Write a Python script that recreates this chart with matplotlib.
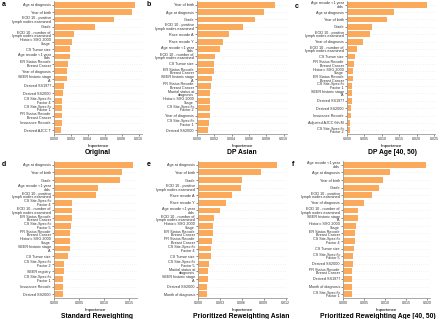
import numpy as np
import matplotlib
matplotlib.use("Agg")
import matplotlib.pyplot as plt

plt.rcParams['font.family'] = ['Liberation Sans', 'DejaVu Sans']

# feature importances (top bar first)
orig_labels = ["Age at diagnosis", "Year of birth", "EOD 10 - positive\nlymph nodes examined", "Grade",
               "EOD 10 - number of\nlymph nodes examined", "Historic SSG 2000\nStage", "CS Tumor size",
               "Age recode <1 year\nolds", "ER Status Recode\nBreast Cancer", "Year of diagnosis",
               "SEER historic stage\nA", "Derived SS1977", "Derived SS2000", "CS Site-Specific\nFactor 4",
               "CS Site-Specific\nFactor 1", "PR Status Recode\nBreast Cancer", "Insurance Recode",
               "Derived AJCC T"]
orig_vals = [0.00956, 0.00916, 0.00708, 0.0048, 0.00236, 0.00208, 0.00188, 0.00184, 0.0016, 0.00156,
             0.00156, 0.00116, 0.00112, 0.0010, 0.0010, 0.00096, 0.00092, 0.00088]

dpa_labels = ["Year of birth", "Age at diagnosis", "Grade", "EOD 10 - positive\nlymph nodes examined",
              "Race recode A", "Race recode Y", "Age recode <1 year\nolds",
              "EOD 10 - number of\nlymph nodes examined", "CS Tumor size", "ER Status Recode\nBreast Cancer",
              "SEER historic stage\nA", "PR Status Recode\nBreast Cancer", "Marital status at\ndiagnosis",
              "Historic SSG 2000\nStage", "CS Site-Specific\nFactor 2", "Year of diagnosis",
              "CS Site-Specific\nFactor 1", "Derived SS2000"]
dpa_vals = [0.00899, 0.00776, 0.00675, 0.0053, 0.00366, 0.00295, 0.00265, 0.00213, 0.00198, 0.00194,
            0.00172, 0.0016, 0.00153, 0.00153, 0.00153, 0.00149, 0.00142, 0.00127]

dpage_labels = ["Age recode <1 year\nolds", "Age at diagnosis", "Year of birth", "Grade",
                "EOD 10 - positive\nlymph nodes examined", "Year of diagnosis",
                "EOD 10 - number of\nlymph nodes examined", "CS Tumor size", "PR Status Recode\nBreast Cancer",
                "Historic SSG 2000\nStage", "ER Status Recode\nBreast Cancer", "CS Site-Specific\nFactor 1",
                "SEER historic stage\nA", "Derived SS1977", "Derived SS2000", "Insurance Recode",
                "Adjusted AJCC 6th M", "CS Site-Specific\nFactor 2"]
dpage_vals = [0.0229, 0.01336, 0.01145, 0.00706, 0.00668, 0.00458, 0.00296, 0.0022, 0.0019, 0.0018,
              0.0017, 0.00153, 0.00143, 0.00134, 0.00115, 0.00105, 0.00095, 0.00095]

sr_labels = ["Age at diagnosis", "Year of birth", "Grade", "Age recode <1 year\nolds",
             "EOD 10 - positive\nlymph nodes examined", "CS Site-Specific\nFactor 4",
             "EOD 10 - number of\nlymph nodes examined", "ER Status Recode\nBreast Cancer",
             "CS Site-Specific\nFactor 5", "PR Status Recode\nBreast Cancer", "Historic SSG 2000\nStage",
             "SEER historic stage\nA", "CS Tumor size", "CS Site-Specific\nFactor 2", "SEER registry",
             "CS Site-Specific\nFactor 1", "Insurance Recode", "Derived SS2000"]
sr_vals = [0.01565, 0.0135, 0.01305, 0.00883, 0.00831, 0.00364, 0.00357, 0.0035, 0.00331, 0.00325,
           0.00325, 0.00318, 0.00279, 0.00201, 0.00195, 0.00188, 0.00182, 0.00175]

pra_labels = ["Age at diagnosis", "Year of birth", "Grade", "EOD 10 - positive\nlymph nodes examined",
              "Race recode A", "Race recode Y", "Age recode <1 year\nolds",
              "EOD 10 - number of\nlymph nodes examined", "Historic SSG 2000\nStage",
              "ER Status Recode\nBreast Cancer", "PR Status Recode\nBreast Cancer", "CS Site-Specific\nFactor 4",
              "CS Tumor size", "CS Site-Specific\nFactor 5", "Marital status at\ndiagnosis",
              "SEER historic stage\nA", "Derived SS2000", "Month of diagnosis"]
pra_vals = [0.01083, 0.00862, 0.0060, 0.00591, 0.00465, 0.00379, 0.00298, 0.00226, 0.00212, 0.00203,
            0.00198, 0.00185, 0.0018, 0.00149, 0.0014, 0.00135, 0.00126, 0.00122]

prage_labels = ["Age recode <1 year\nolds", "Age at diagnosis", "Year of birth", "Grade",
                "EOD 10 - positive\nlymph nodes examined", "Year of diagnosis",
                "EOD 10 - number of\nlymph nodes examined", "SEER historic stage\nA", "Historic SSG 2000\nStage",
                "ER Status Recode\nBreast Cancer", "CS Site-Specific\nFactor 4", "CS Tumor size",
                "CS Site-Specific\nFactor 5", "Derived SS2000", "PR Status Recode\nBreast Cancer",
                "Derived SS1977", "Month of diagnosis", "CS Site-Specific\nFactor 1"]
prage_vals = [0.01984, 0.01119, 0.0096, 0.00849, 0.00698, 0.00492, 0.00365, 0.00349, 0.00317, 0.00294,
              0.00278, 0.00254, 0.00246, 0.00238, 0.00222, 0.00222, 0.00214, 0.00206]

panels = [
    ("a", "Original", orig_labels, orig_vals, [0, 0.002, 0.004, 0.006, 0.008, 0.010], 0.0104),
    ("b", "DP Asian", dpa_labels, dpa_vals, [0, 0.002, 0.004, 0.006, 0.008, 0.010], 0.0104),
    ("c", "DP Age [40, 50)", dpage_labels, dpage_vals, [0, 0.005, 0.010, 0.015, 0.020, 0.025], 0.0252),
    ("d", "Standard Reweighting", sr_labels, sr_vals, [0, 0.005, 0.010, 0.015], 0.0165),
    ("e", "Prioritized Reweighting Asian", pra_labels, pra_vals, [0, 0.003, 0.006, 0.009, 0.012], 0.0122),
    ("f", "Prioritized Reweighting Age [40, 50)", prage_labels, prage_vals,
     [0, 0.005, 0.010, 0.015, 0.020], 0.0207),
]

# axes boxes in pixels: left, top, right, bottom
boxes = [(54, 1, 142, 134), (197, 1, 287, 134), (347, 1, 435, 134),
         (54, 161, 137, 298), (198, 161, 287, 298), (343, 161, 430, 298)]
letter_pos = [(2, 5), (147, 5), (295, 6), (2, 164), (147, 164), (292, 164)]
title_x = [98, 242, 392, 97, 241, 378]

W, H = 440, 319
fig = plt.figure(figsize=(W / 100, H / 100), dpi=100)
bar_color = "#FBAA5C"
spine_color = "#999999"

for (letter, title, labels, vals, ticks, xmax), (l, t, r, b), (lx, ly), tx in zip(
        panels, boxes, letter_pos, title_x):
    ax = fig.add_axes([l / W, 1 - b / H, (r - l) / W, (b - t) / H])
    y = np.arange(len(vals))
    ax.barh(y, vals, height=0.78, color=bar_color, zorder=2)
    ax.set_ylim(len(vals) - 0.5, -0.5)
    ax.set_xlim(0, xmax)
    ax.set_yticks(y)
    ax.set_yticklabels(labels, fontsize=2.7, linespacing=0.85, color="#222222")
    ax.set_xticks(ticks)
    ax.set_xticklabels(["%.3f" % v for v in ticks], fontsize=2.6, color="#222222")
    ax.tick_params(length=1.2, width=0.4, pad=1, colors="#333333")
    for s in ["top", "right"]:
        ax.spines[s].set_visible(False)
    for s in ["left", "bottom"]:
        ax.spines[s].set_color(spine_color)
        ax.spines[s].set_linewidth(0.6)
    ax.yaxis.grid(True, linestyle=(0, (1, 3)), color="#d8d8d8", linewidth=0.4, zorder=0)
    ax.set_xlabel("Importance", fontsize=3.2, labelpad=1.8)
    fig.text(tx / W, 1 - (b + 19) / H, title, fontsize=4.9, fontweight="bold",
             ha="center", va="center")
    fig.text(lx / W, 1 - ly / H, letter, fontsize=5, fontweight="bold", ha="left", va="center")

fig.savefig("out.png", dpi=100)
